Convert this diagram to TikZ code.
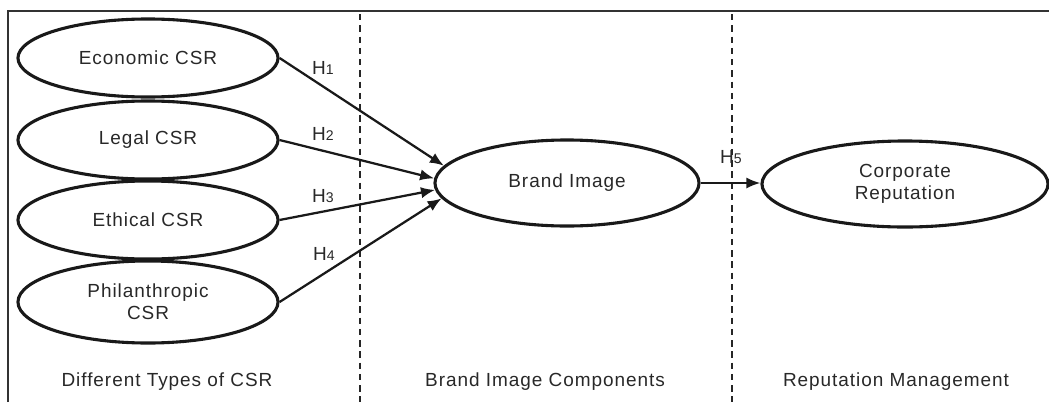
\documentclass[tikz,border=0pt]{standalone}
\usepackage{fontspec}
\setmainfont{Liberation Sans}[LetterSpace=5]
\usetikzlibrary{shapes.geometric,arrows.meta}
\definecolor{inkgray}{RGB}{40,40,40}
\newcommand{\hnum}[1]{{\fontsize{10}{10}\selectfont #1}}

\begin{document}
\begin{tikzpicture}[x=0.025cm, y=-0.025cm,
    construct/.style={draw=black!90, ellipse, line width=2.2pt, inner sep=0pt, minimum width=6.5cm, minimum height=1.95cm, align=center, text=inkgray, font=\fontsize{13.5}{15.5}\selectfont},
    arrow/.style={-{Latex[length=10pt,width=8pt]}, line width=1.6pt, black!90},
    hyp/.style={text=inkgray, font=\fontsize{13.5}{15.5}\selectfont},
    zone/.style={line width=1pt, dash pattern=on 4.5pt off 3.5pt, black!85}
]
    \useasboundingbox (0,0) rectangle (1049,402);

    % Frame and column separators
    \draw[line width=0.9pt, black!80] (8,402) -- (8,11) -- (1049,11);
    \draw[zone] (360,14) -- (360,402);
    \draw[zone] (732,14) -- (732,402);

    % CSR types
    \node[construct] (econ) at (148,58) {Economic CSR};
    \node[construct] (legal) at (148,140) {Legal CSR};
    \node[construct] (ethic) at (148,220) {Ethical CSR};
    \node[construct, minimum height=2.05cm] (phil) at (148,302) {Philanthropic\\CSR};

    % Brand image and reputation
    \node[construct, minimum width=6.6cm, minimum height=2.15cm] (brand) at (567,183) {Brand Image};
    \node[construct, minimum width=7.15cm, minimum height=2.15cm] (corp) at (905,184) {Corporate\\Reputation};

    % Hypotheses
    \draw[arrow] (econ.east) -- (brand.172);
    \draw[arrow] (legal.east) -- (brand.178);
    \draw[arrow] (ethic.east) -- (brand.183.5);
    \draw[arrow] (phil.east) -- (brand.187);
    \draw[arrow] (brand.east) -- (brand.east -| corp.west);

    \node[hyp] (h1) at (323,68) {H\hnum{1}};
    \node[hyp] (h2) at (323,134) {H\hnum{2}};
    \node[hyp] (h3) at (323,196) {H\hnum{3}};
    \node[hyp] (h4) at (324,254) {H\hnum{4}};
    \node[hyp] (h5) at (731,157) {H\hnum{5}};

    % Column titles
    \node[hyp] (csrtitle) at (167,382) {Different Types of CSR};
    \node[hyp] (brandtitle) at (545,382) {Brand Image Components};
    \node[hyp] (reptitle) at (896,382) {Reputation Management};
\end{tikzpicture}
\end{document}
